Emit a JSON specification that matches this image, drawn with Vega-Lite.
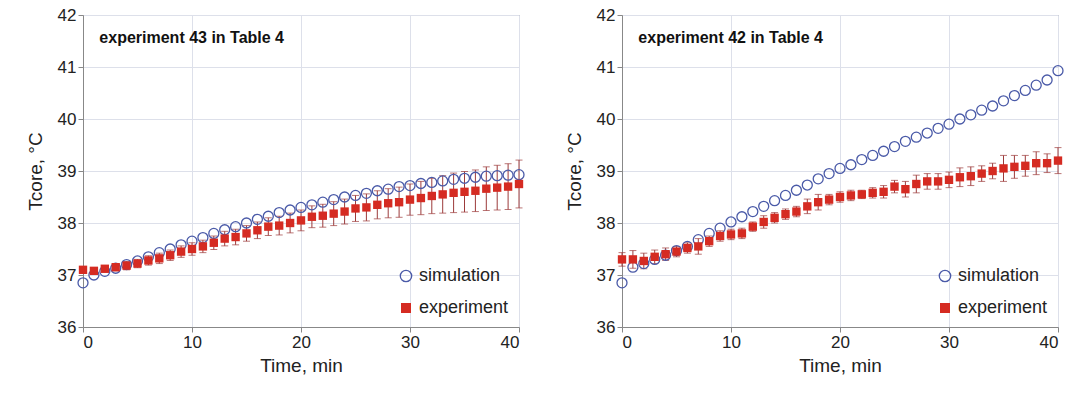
{
  "$schema": "https://vega.github.io/schema/vega-lite/v6.json",
  "background": "white",
  "padding": {"left": 25, "top": 5, "right": 5, "bottom": 5},
  "config": {
    "font": "Liberation Sans",
    "view": {"stroke": "#888888", "strokeWidth": 1},
    "axis": {"labelFontSize": 17, "titleFontSize": 19, "titleFontWeight": "normal", "labelColor": "#222", "titleColor": "#222", "gridColor": "#dde0ea", "domainColor": "#888", "tickColor": "#888"},
    "legend": {"labelFontSize": 18, "labelColor": "#222", "symbolStrokeWidth": 1.3, "padding": 0}
  },
  "datasets": {
    "L": [
      {"t":0,"s":36.85,"e":37.1,"d":0.04},{"t":1,"s":37.0,"e":37.08,"d":0.05},{"t":2,"s":37.07,"e":37.12,"d":0.06},{"t":3,"s":37.13,"e":37.15,"d":0.07},{"t":4,"s":37.2,"e":37.18,"d":0.08},
      {"t":5,"s":37.27,"e":37.22,"d":0.08},{"t":6,"s":37.35,"e":37.28,"d":0.09},{"t":7,"s":37.43,"e":37.32,"d":0.1},{"t":8,"s":37.5,"e":37.38,"d":0.1},{"t":9,"s":37.58,"e":37.45,"d":0.11},
      {"t":10,"s":37.65,"e":37.5,"d":0.12},{"t":11,"s":37.72,"e":37.55,"d":0.12},{"t":12,"s":37.8,"e":37.62,"d":0.13},{"t":13,"s":37.87,"e":37.7,"d":0.14},{"t":14,"s":37.93,"e":37.73,"d":0.15},
      {"t":15,"s":38.0,"e":37.8,"d":0.15},{"t":16,"s":38.07,"e":37.86,"d":0.16},{"t":17,"s":38.13,"e":37.93,"d":0.17},{"t":18,"s":38.2,"e":37.95,"d":0.18},{"t":19,"s":38.25,"e":38.0,"d":0.19},
      {"t":20,"s":38.3,"e":38.05,"d":0.2},{"t":21,"s":38.35,"e":38.12,"d":0.21},{"t":22,"s":38.4,"e":38.14,"d":0.22},{"t":23,"s":38.45,"e":38.18,"d":0.23},{"t":24,"s":38.5,"e":38.22,"d":0.24},
      {"t":25,"s":38.53,"e":38.28,"d":0.25},{"t":26,"s":38.57,"e":38.3,"d":0.26},{"t":27,"s":38.62,"e":38.35,"d":0.27},{"t":28,"s":38.65,"e":38.38,"d":0.28},{"t":29,"s":38.7,"e":38.4,"d":0.29},
      {"t":30,"s":38.72,"e":38.45,"d":0.3},{"t":31,"s":38.76,"e":38.48,"d":0.32},{"t":32,"s":38.78,"e":38.52,"d":0.34},{"t":33,"s":38.81,"e":38.55,"d":0.36},{"t":34,"s":38.84,"e":38.58,"d":0.38},
      {"t":35,"s":38.86,"e":38.6,"d":0.39},{"t":36,"s":38.88,"e":38.62,"d":0.4},{"t":37,"s":38.9,"e":38.66,"d":0.42},{"t":38,"s":38.91,"e":38.68,"d":0.43},{"t":39,"s":38.92,"e":38.7,"d":0.44},
      {"t":40,"s":38.93,"e":38.75,"d":0.46}
    ],
    "R": [
      {"t":0,"s":36.85,"e":37.3,"d":0.13},{"t":1,"s":37.15,"e":37.3,"d":0.17},{"t":2,"s":37.22,"e":37.27,"d":0.15},{"t":3,"s":37.3,"e":37.35,"d":0.13},{"t":4,"s":37.38,"e":37.4,"d":0.12},
      {"t":5,"s":37.47,"e":37.45,"d":0.1},{"t":6,"s":37.55,"e":37.52,"d":0.1},{"t":7,"s":37.68,"e":37.55,"d":0.15},{"t":8,"s":37.8,"e":37.65,"d":0.1},{"t":9,"s":37.9,"e":37.75,"d":0.1},
      {"t":10,"s":38.02,"e":37.78,"d":0.1},{"t":11,"s":38.12,"e":37.8,"d":0.1},{"t":12,"s":38.22,"e":37.93,"d":0.09},{"t":13,"s":38.32,"e":38.02,"d":0.12},{"t":14,"s":38.43,"e":38.1,"d":0.1},
      {"t":15,"s":38.53,"e":38.17,"d":0.1},{"t":16,"s":38.63,"e":38.22,"d":0.1},{"t":17,"s":38.73,"e":38.32,"d":0.14},{"t":18,"s":38.85,"e":38.4,"d":0.15},{"t":19,"s":38.95,"e":38.45,"d":0.1},
      {"t":20,"s":39.05,"e":38.5,"d":0.1},{"t":21,"s":39.12,"e":38.53,"d":0.1},{"t":22,"s":39.22,"e":38.55,"d":0.08},{"t":23,"s":39.3,"e":38.58,"d":0.1},{"t":24,"s":39.38,"e":38.6,"d":0.12},
      {"t":25,"s":39.47,"e":38.7,"d":0.12},{"t":26,"s":39.57,"e":38.65,"d":0.15},{"t":27,"s":39.65,"e":38.75,"d":0.17},{"t":28,"s":39.73,"e":38.8,"d":0.15},{"t":29,"s":39.82,"e":38.8,"d":0.15},
      {"t":30,"s":39.9,"e":38.83,"d":0.15},{"t":31,"s":40.0,"e":38.88,"d":0.18},{"t":32,"s":40.08,"e":38.9,"d":0.18},{"t":33,"s":40.17,"e":38.95,"d":0.15},{"t":34,"s":40.25,"e":39.0,"d":0.15},
      {"t":35,"s":40.35,"e":39.05,"d":0.25},{"t":36,"s":40.45,"e":39.08,"d":0.22},{"t":37,"s":40.55,"e":39.1,"d":0.2},{"t":38,"s":40.65,"e":39.15,"d":0.22},{"t":39,"s":40.75,"e":39.15,"d":0.18},
      {"t":40,"s":40.93,"e":39.2,"d":0.25}
    ]
  },
  "spacing": 36,
  "resolve": {"legend": {"stroke": "independent", "fill": "independent"}},
  "hconcat": [
    {
      "width": 436, "height": 312,
      "data": {"name": "L"},
      "transform": [{"calculate": "datum.e - datum.d", "as": "lo"}, {"calculate": "datum.e + datum.d", "as": "hi"}],
      "encoding": {
        "x": {"field": "t", "type": "quantitative", "title": "Time, min", "scale": {"domain": [0, 40], "nice": false}, "axis": {"values": [0, 10, 20, 30, 40], "titlePadding": 6}},
        "y": {"type": "quantitative", "title": "Tcore, °C", "scale": {"domain": [36, 42], "nice": false}, "axis": {"values": [36, 37, 38, 39, 40, 41, 42], "titlePadding": 12}}
      },
      "layer": [
        {"mark": {"type": "errorbar", "ticks": {"size": 7, "color": "#9c3a3a"}, "rule": {"color": "#9c3a3a"}}, "encoding": {"y": {"field": "lo", "type": "quantitative"}, "y2": {"field": "hi"}}},
        {"mark": {"type": "point", "shape": "circle", "filled": false, "size": 100, "strokeWidth": 1.3, "opacity": 1}, "encoding": {"y": {"field": "s"}, "stroke": {"datum": "simulation", "scale": {"range": ["#4a5aa8"]}, "legend": {"orient": "none", "legendX": 314, "legendY": 252, "title": null, "symbolSize": 130, "symbolType": "circle", "symbolFillColor": "transparent", "symbolOpacity": 1}}}},
        {"mark": {"type": "square", "size": 70, "opacity": 1}, "encoding": {"y": {"field": "e"}, "fill": {"datum": "experiment", "scale": {"range": ["#d52b22"]}, "legend": {"orient": "none", "legendX": 314, "legendY": 284, "title": null, "symbolSize": 100, "symbolType": "square", "symbolOpacity": 1}}}},
        {"mark": {"type": "text", "fontSize": 16, "fontWeight": "bold", "align": "left", "color": "#111"}, "data": {"values": [{"x": 1.5, "y": 41.55, "l": "experiment 43 in Table 4"}]}, "encoding": {"x": {"field": "x", "type": "quantitative"}, "y": {"field": "y", "type": "quantitative"}, "text": {"field": "l"}}}
      ]
    },
    {
      "width": 436, "height": 312,
      "data": {"name": "R"},
      "transform": [{"calculate": "datum.e - datum.d", "as": "lo"}, {"calculate": "datum.e + datum.d", "as": "hi"}],
      "encoding": {
        "x": {"field": "t", "type": "quantitative", "title": "Time, min", "scale": {"domain": [0, 40], "nice": false}, "axis": {"values": [0, 10, 20, 30, 40], "titlePadding": 6}},
        "y": {"type": "quantitative", "title": "Tcore, °C", "scale": {"domain": [36, 42], "nice": false}, "axis": {"values": [36, 37, 38, 39, 40, 41, 42], "titlePadding": 12}}
      },
      "layer": [
        {"mark": {"type": "errorbar", "ticks": {"size": 7, "color": "#9c3a3a"}, "rule": {"color": "#9c3a3a"}}, "encoding": {"y": {"field": "lo", "type": "quantitative"}, "y2": {"field": "hi"}}},
        {"mark": {"type": "point", "shape": "circle", "filled": false, "size": 100, "strokeWidth": 1.3, "opacity": 1}, "encoding": {"y": {"field": "s"}, "stroke": {"datum": "simulation", "scale": {"range": ["#4a5aa8"]}, "legend": {"orient": "none", "legendX": 314, "legendY": 252, "title": null, "symbolSize": 130, "symbolType": "circle", "symbolFillColor": "transparent", "symbolOpacity": 1}}}},
        {"mark": {"type": "square", "size": 70, "opacity": 1}, "encoding": {"y": {"field": "e"}, "fill": {"datum": "experiment", "scale": {"range": ["#d52b22"]}, "legend": {"orient": "none", "legendX": 314, "legendY": 284, "title": null, "symbolSize": 100, "symbolType": "square", "symbolOpacity": 1}}}},
        {"mark": {"type": "text", "fontSize": 16, "fontWeight": "bold", "align": "left", "color": "#111"}, "data": {"values": [{"x": 1.5, "y": 41.55, "l": "experiment 42 in Table 4"}]}, "encoding": {"x": {"field": "x", "type": "quantitative"}, "y": {"field": "y", "type": "quantitative"}, "text": {"field": "l"}}}
      ]
    }
  ]
}
